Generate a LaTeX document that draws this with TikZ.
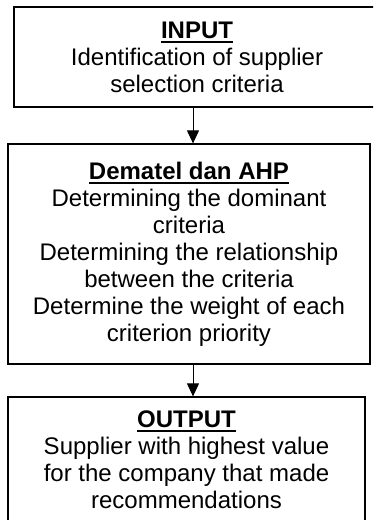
\documentclass[tikz,border=0pt]{standalone}
\usepackage{fontspec}
\setmainfont{Liberation Sans}
\usetikzlibrary{arrows.meta, positioning}

\newcommand{\headline}[1]{\setbox0=\hbox{\bfseries #1}\rlap{\rule[-4.4pt]{\wd0}{1.8pt}}\box0}

\begin{document}
\begin{tikzpicture}[>={Triangle[width=12pt,length=13pt]}, x=1pt, y=-1pt, line width=1.2pt]
      \tikzset{stage/.style={draw, align=center, inner sep=0pt, font=\fontsize{24}{27}\selectfont}}
      \useasboundingbox (0,0) rectangle (373,520);
      \clip (0,0) rectangle (373,520);

      % Input
      \node[stage, minimum width=366pt, minimum height=100pt] (input) at (197,57)
        {\headline{INPUT}\\ Identification of supplier\\ selection criteria};

      % Method
      \node[stage, minimum width=362pt, minimum height=220pt] (method) at (189,254)
        {\headline{Dematel dan AHP}\\ Determining the dominant\\ criteria\\
         Determining the relationship\\ between the criteria\\
         Determine the weight of each\\ criterion priority};

      % Output
      \node[stage, minimum width=357pt, minimum height=125pt] (output) at (186.5,459.5)
        {\headline{OUTPUT}\\ Supplier with highest value\\ for the company that made\\ recommendations};

      \coordinate (axis) at (193,0);
      \draw[->, line width=1pt] (input.south -| axis) -- (method.north -| axis);
      \draw[->, line width=1pt] (method.south -| axis) -- (output.north -| axis);
    \end{tikzpicture}
\end{document}
